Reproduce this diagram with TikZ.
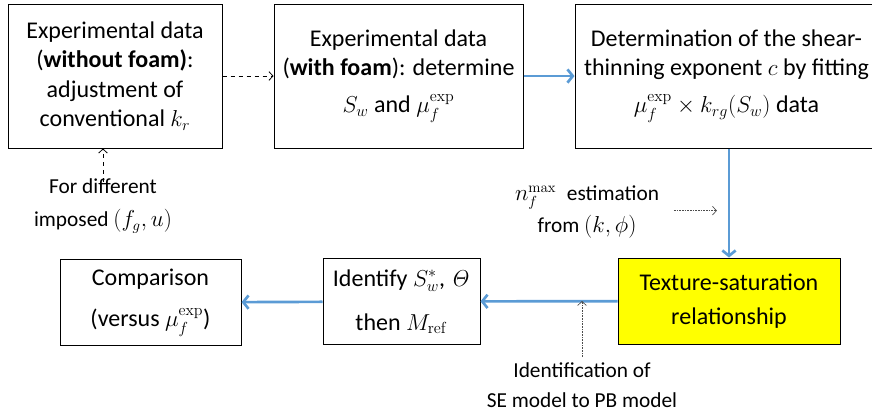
\documentclass[tikz,border=0pt]{standalone}
\usepackage[no-math]{fontspec}
\setmainfont{Carlito}
\usepackage{amsmath}
\usetikzlibrary{arrows.meta}

\definecolor{flowblue}{RGB}{91,155,213}
\definecolor{boxyellow}{RGB}{255,255,0}

\begin{document}
\begin{tikzpicture}[x=0.75pt, y=-0.75pt, auto,
box_style/.style={rectangle,draw=black,line width=0.75pt,fill=white,align=center,inner sep=0pt,font=\fontsize{18}{22}\selectfont},
label_style/.style={align=center,inner sep=0pt,font=\fontsize{16}{22.5}\selectfont},
flow_style/.style={draw=flowblue, line width=2pt, -{Straight Barb[length=4pt,width=10pt,line width=2pt]}},
hint_style/.style={draw=black, line width=0.6pt, dashed, -{Straight Barb[length=3pt,width=6.5pt]}},
dot_style/.style={draw=black!70, line width=0.5pt, dash pattern=on 1.2pt off 0.8pt, -{Straight Barb[length=3pt,width=6.5pt]}}]
\useasboundingbox (0,0) rectangle (872,419);

\node[box_style, minimum width=160.5pt, minimum height=108pt] (nofoam) at (115,76)
  {Experimental data\\(\textbf{without foam)}:\\adjustment of\\conventional $k_r$};
\node[box_style, minimum width=186.75pt, minimum height=108pt] (foam) at (398.5,76)
  {Experimental data\\(\textbf{with foam}): determine\\[6pt]$S_w$ and $\mu_f^{\exp}$};
\node[box_style, minimum width=227.25pt, minimum height=108pt] (fit) at (726.5,76)
  {Determination of the shear-\\thinning exponent $c$ by fitting\\[6pt]$\mu_f^{\exp}\times k_{rg}(S_w)$ data};
\node[box_style, fill=boxyellow, minimum width=166.5pt, minimum height=64.5pt] (texture) at (729,301)
  {Texture-saturation\\[3pt]relationship};
\node[box_style, minimum width=117.75pt, minimum height=65pt] (identify) at (401.5,301.5)
  {Identify $S_w^*$, $\mathit{\Theta}$\\[11pt]then $M_{\mathrm{ref}}$};
\node[box_style, minimum width=135.75pt, minimum height=65pt] (compare) at (150.5,302.5)
  {Comparison\\[9pt](versus $\mu_f^{\exp}$)};

\node[label_style] (imposed) at (103,206) {For different\\[2pt]imposed $(f_g,u)$};
\node[label_style] (nmax) at (587,212) {$n_f^{\max}$\enspace estimation\\[1pt]from $(k,\phi)$};
\node[label_style] (seid) at (582,385) {Identification of\\SE model to PB model};

\draw[hint_style] (nofoam) -- (foam);
\draw[hint_style] ([yshift=-2pt]imposed.north) -- (imposed.north |- nofoam.south);
\draw[flow_style] (foam) -- (fit);
\draw[flow_style] (texture.north |- fit.south) -- (texture.north);
\draw[flow_style] (texture) -- (identify);
\draw[flow_style] (identify) -- (compare);
\draw[dot_style] ([xshift=11pt,yshift=1pt]nmax.east) -- ++(43,0);
\draw[dot_style] ([yshift=4pt]seid.north) -- (seid.north |- texture.west);

\end{tikzpicture}
\end{document}
